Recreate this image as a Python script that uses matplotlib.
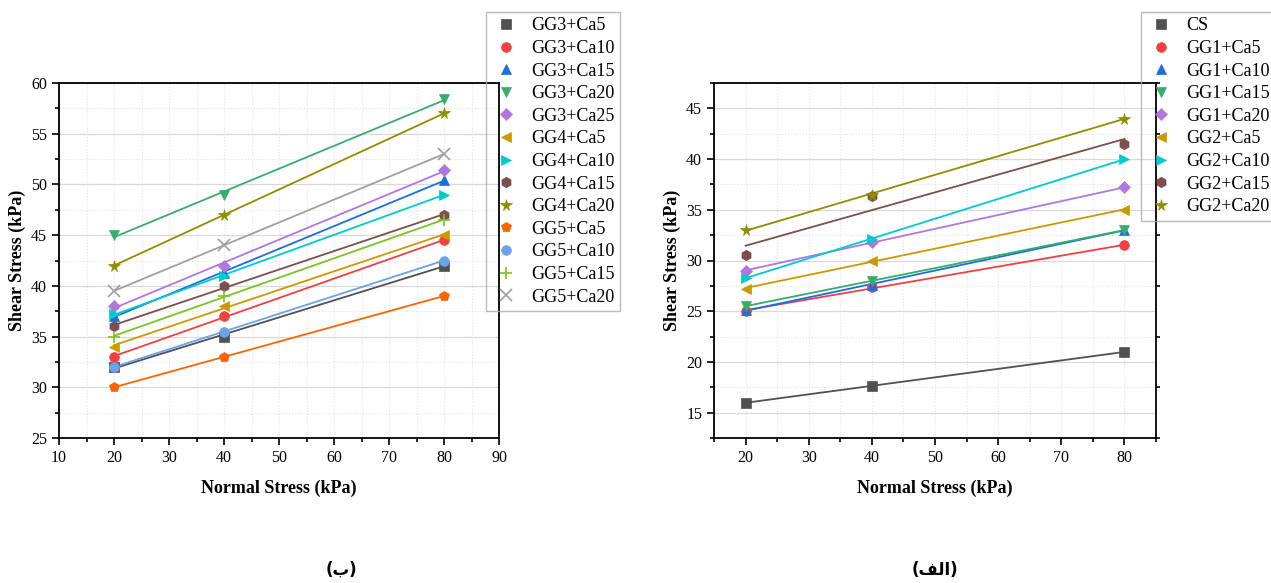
import numpy as np
import matplotlib
import matplotlib.pyplot as plt
from matplotlib.ticker import MultipleLocator

matplotlib.use('agg')

# normal stress levels (kPa)
normal = [20, 40, 80]

# left panel (b)
labels_b = ["GG3+Ca5", "GG3+Ca10", "GG3+Ca15", "GG3+Ca20", "GG3+Ca25",
            "GG4+Ca5", "GG4+Ca10", "GG4+Ca15", "GG4+Ca20",
            "GG5+Ca5", "GG5+Ca10", "GG5+Ca15", "GG5+Ca20"]
gg3_ca5 = [32, 35, 42]
gg3_ca10 = [33, 37, 44.5]
gg3_ca15 = [37, 41.3, 50.4]
gg3_ca20 = [45, 49, 58.4]
gg3_ca25 = [38, 42, 51.4]
gg4_ca5 = [34, 38, 45]
gg4_ca10 = [37.2, 41, 49]
gg4_ca15 = [36, 40, 47]
gg4_ca20 = [42, 47, 57]
gg5_ca5 = [30, 33, 39]
gg5_ca10 = [32, 35.5, 42.5]
gg5_ca15 = [35, 39, 46.5]
gg5_ca20 = [39.5, 44, 53]

# right panel (alef)
labels_a = ["CS", "GG1+Ca5", "GG1+Ca10", "GG1+Ca15", "GG1+Ca20",
            "GG2+Ca5", "GG2+Ca10", "GG2+Ca15", "GG2+Ca20"]
cs = [16, 17.6, 21]
gg1_ca5 = [25, 27.4, 31.5]
gg1_ca10 = [25.1, 27.6, 33]
gg1_ca15 = [25.5, 28, 33]
gg1_ca20 = [29, 31.8, 37.2]
gg2_ca5 = [27.2, 30, 35]
gg2_ca10 = [28.3, 32.1, 40]
gg2_ca15 = [30.5, 36.4, 41.5]
gg2_ca20 = [33, 36.5, 44]

series_b = [gg3_ca5, gg3_ca10, gg3_ca15, gg3_ca20, gg3_ca25, gg4_ca5, gg4_ca10,
            gg4_ca15, gg4_ca20, gg5_ca5, gg5_ca10, gg5_ca15, gg5_ca20]
series_a = [cs, gg1_ca5, gg1_ca10, gg1_ca15, gg1_ca20, gg2_ca5, gg2_ca10,
            gg2_ca15, gg2_ca20]

colors = ['#515151', '#F14040', '#1A6FDF', '#37AD6B', '#B177DE', '#CC9900',
          '#00CBCC', '#7D4E4E', '#8E8E00', '#FB6501', '#6CA2EA', '#7BC424',
          '#A0A0A0']
markers = ['s', 'o', '^', 'v', 'D', '<', '>', 'h', '*', 'p', 'o', '+', 'x']
msizes = [6.5, 7, 7.5, 7.5, 6, 7.5, 7.5, 7.5, 8.5, 7.5, 7, 8, 8]

plt.rcParams['font.family'] = ['Liberation Serif', 'DejaVu Serif']

fig = plt.figure(figsize=(12.71, 5.83), dpi=100)
W, H = 1271, 583


def make_axes(left, top, right, bottom):
    return fig.add_axes([left / W, 1 - bottom / H, (right - left) / W, (bottom - top) / H])


def draw_panel(ax, data, labels):
    for i, y in enumerate(data):
        k = np.polyfit(normal, y, 1)
        xf = np.array([normal[0], normal[-1]])
        ax.plot(xf, np.polyval(k, xf), color=colors[i], lw=1.3, zorder=3)
        mew = 1.2 if markers[i] in ('+', 'x') else 0.5
        ax.plot(normal, y, linestyle='none', marker=markers[i], ms=msizes[i],
                color=colors[i], mec=colors[i], mew=mew, label=labels[i], zorder=4)
    ax.grid(which='major', axis='y', color='#d9d9d9', lw=0.9, ls='-')
    ax.grid(which='major', axis='x', color='#e3e3e3', lw=0.8, ls=':')
    ax.grid(which='minor', color='#e3e3e3', lw=0.8, ls=':')
    for sp in ax.spines.values():
        sp.set_linewidth(1.3)
        sp.set_color('black')
    ax.tick_params(which='both', direction='out', labelsize=11.5, width=1.2)
    ax.tick_params(which='major', length=5)
    ax.tick_params(which='minor', length=3)
    ax.set_xlabel('Normal Stress (kPa)', fontsize=13, fontweight='bold', labelpad=10)
    ax.set_ylabel('Shear Stress (kPa)', fontsize=13, fontweight='bold', labelpad=4)
    ax.set_axisbelow(True)


# left panel
ax1 = make_axes(59, 83, 499, 438)
draw_panel(ax1, series_b, labels_b)
ax1.set_xlim(10, 90)
ax1.set_ylim(25, 60)
ax1.xaxis.set_major_locator(MultipleLocator(10))
ax1.xaxis.set_minor_locator(MultipleLocator(5))
ax1.yaxis.set_major_locator(MultipleLocator(5))
ax1.yaxis.set_minor_locator(MultipleLocator(2.5))
fig.legend(*ax1.get_legend_handles_labels(), loc='upper left',
           bbox_to_anchor=(486 / W, 1 - 12 / H), fontsize=13, frameon=True,
           fancybox=False, edgecolor='#aaaaaa', facecolor='none', framealpha=None,
           labelspacing=0.31, handletextpad=0.6, borderpad=0.3,
           handlelength=1.6, borderaxespad=0)

# right panel
ax2 = make_axes(714, 83, 1156, 438)
draw_panel(ax2, series_a, labels_a)
ax2.set_xlim(15, 85)
ax2.set_ylim(12.5, 47.5)
ax2.xaxis.set_major_locator(MultipleLocator(10))
ax2.xaxis.set_minor_locator(MultipleLocator(5))
ax2.yaxis.set_major_locator(MultipleLocator(5))
ax2.yaxis.set_minor_locator(MultipleLocator(2.5))
ax2.tick_params(which='minor', right=True)
fig.legend(*ax2.get_legend_handles_labels(), loc='upper left',
           bbox_to_anchor=(1141 / W, 1 - 12 / H), fontsize=13, frameon=True,
           fancybox=False, edgecolor='#aaaaaa', facecolor='none', framealpha=None,
           labelspacing=0.31, handletextpad=0.6, borderpad=0.3,
           handlelength=1.6, borderaxespad=0)

# panel captions
fig.text(341 / W, 1 - 570 / H, '(ب)', ha='center', va='center', fontsize=12,
         fontweight='bold', family=['DejaVu Sans'])
fig.text(935 / W, 1 - 570 / H, '(ﻒﻟﺍ)', ha='center', va='center', fontsize=12,
         fontweight='bold', family=['DejaVu Sans'])

plt.savefig('out.png', dpi=100)
plt.close()
